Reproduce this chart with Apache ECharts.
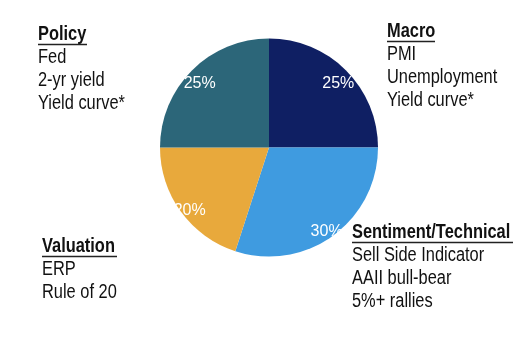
<!DOCTYPE html>
<html><head><meta charset="utf-8">
<script src="https://cdn.jsdelivr.net/npm/echarts@6/dist/echarts.min.js"></script>
<style>html,body{margin:0;padding:0;background:#fff}#c{width:531px;height:337px}</style>
</head><body><div id="c"></div>
<script>
var categories = ['Macro', 'Sentiment/Technical', 'Valuation', 'Policy'];
var weights = [25, 30, 20, 25];
var details = [
  ['PMI', 'Unemployment', 'Yield curve*'],
  ['Sell Side Indicator', 'AAII bull-bear', '5%+ rallies'],
  ['ERP', 'Rule of 20'],
  ['Fed', '2-yr yield', 'Yield curve*']
];
var colors = ['#0f1f63', '#3f9be0', '#e8a93c', '#2c6679'];

var FONT = "'Liberation Sans',Arial,sans-serif";
var blockPos = [[387, 32, 48], [352, 233, 161], [42, 247, 75], [38, 35, 49]];
var LH = 23;
var SX = 0.82;

var graphics = [];
categories.forEach(function (cat, i) {
  var p = blockPos[i];
  graphics.push({type: 'text', x: p[0], y: p[1] - 11, scaleX: SX, style: {x: 0, y: 0, text: cat, font: 'bold 20px ' + FONT, fill: '#111', textVerticalAlign: 'top'}});
  graphics.push({type: 'line', shape: {x1: p[0], y1: p[1] + 9.5, x2: p[0] + p[2], y2: p[1] + 9.5}, style: {stroke: '#222', lineWidth: 1.5}});
  details[i].forEach(function (d, j) {
    graphics.push({type: 'text', x: p[0], y: p[1] - 11 + LH * (j + 1), scaleX: SX, style: {x: 0, y: 0, text: d, font: '20px ' + FONT, fill: '#111', textVerticalAlign: 'top'}});
  });
});

var pieData = categories.map(function (c, i) { return {name: c, value: weights[i], itemStyle: {color: colors[i]}}; });

var chart = echarts.init(document.getElementById('c'), null, {renderer: 'canvas'});
chart.setOption({
  animation: false,
  backgroundColor: '#fff',
  series: [
    {type: 'pie', center: [269, 147.5], radius: [0, 109], startAngle: 90, clockwise: true,
     label: {show: false}, labelLine: {show: false}, silent: true, data: pieData,
     itemStyle: {borderWidth: 0}},
    {type: 'pie', center: [269, 147.5], radius: [82, 108], startAngle: 90, clockwise: true,
     silent: true, data: pieData.map(function (d) { return {name: d.name, value: d.value, itemStyle: {color: 'rgba(0,0,0,0)'}}; }),
     label: {show: true, position: 'inside', formatter: '{c}%', color: '#fff', fontSize: 16, fontFamily: FONT, offset: [0, 5]},
     labelLine: {show: false}, z: 3}
  ],
  graphic: graphics
});
</script></body></html>
